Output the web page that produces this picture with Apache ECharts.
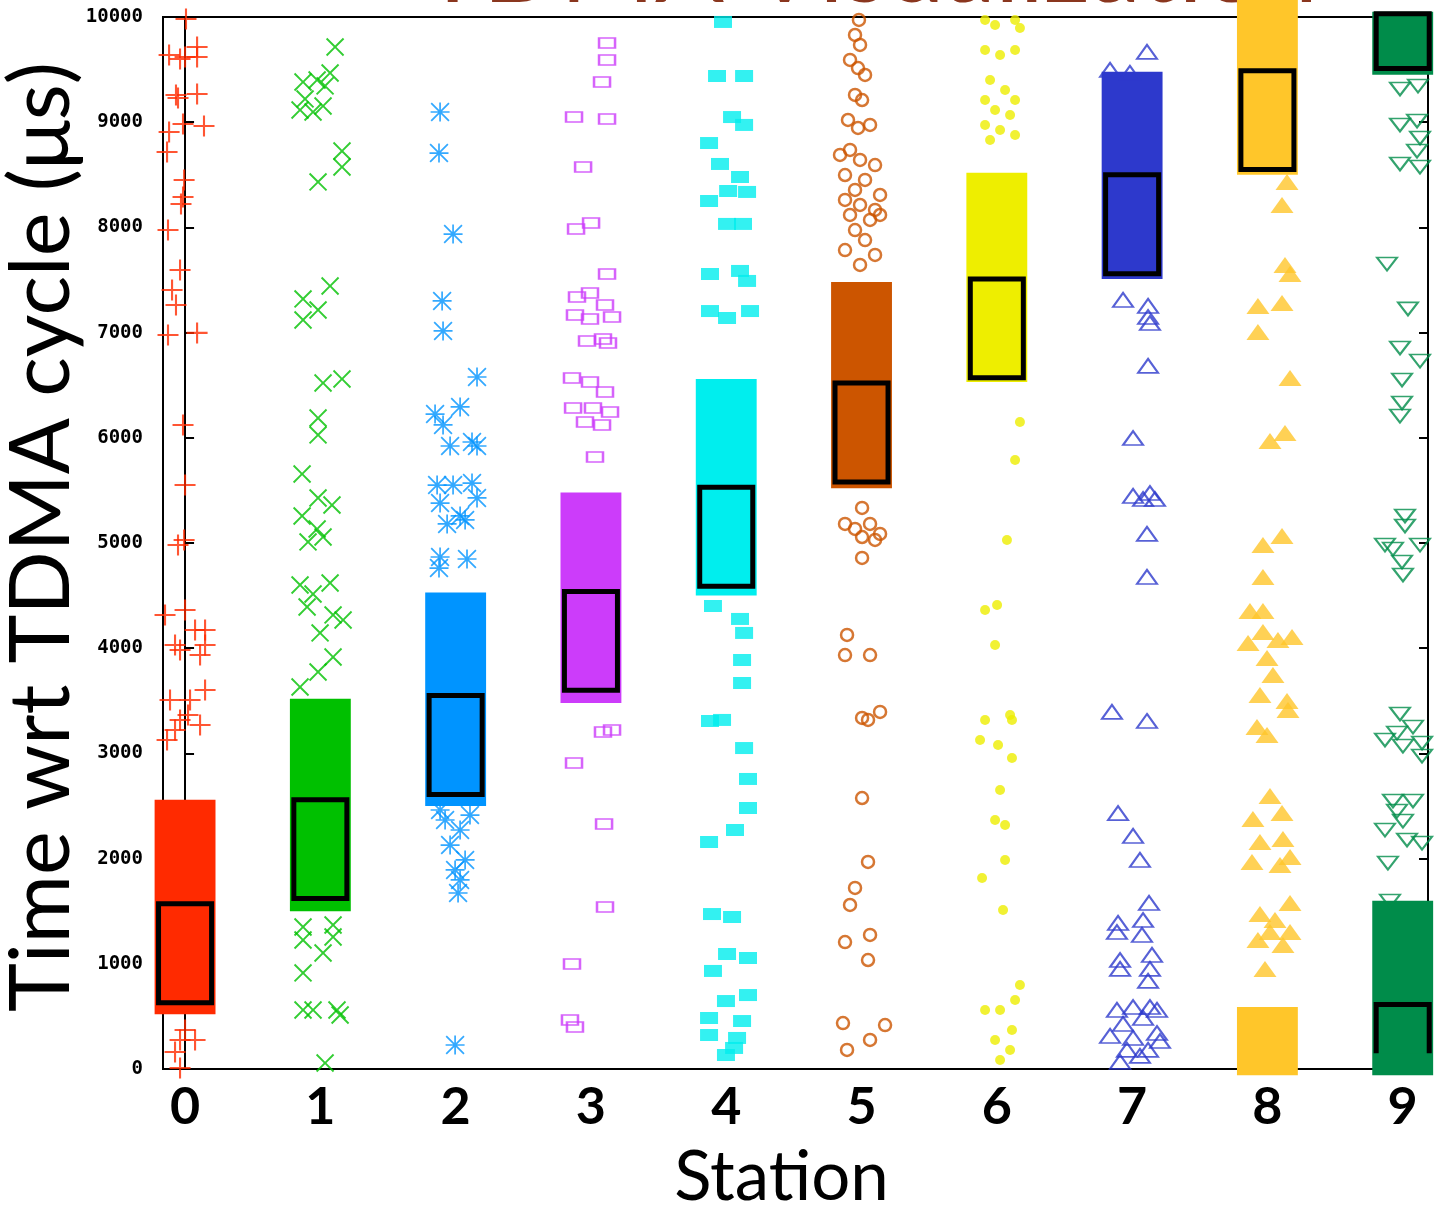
<!DOCTYPE html>
<html>
<head>
<meta charset="utf-8">
<script src="https://cdn.jsdelivr.net/npm/echarts@6/dist/echarts.min.js"></script>
<style>html,body{margin:0;padding:0;background:#fff}#chart{width:1438px;height:1209px}</style>
</head>
<body>
<div id="chart"></div>
<script>
// ---------------- DATA ----------------
const stationLabels = ['0','1','2','3','4','5','6','7','8','9'];
const yTickValues = [0,1000,2000,3000,4000,5000,6000,7000,8000,9000,10000];
const titleText = 'TDMA Visualization';
const yTitle = 'Time wrt TDMA cycle (\u03bcs)';
const xTitle = 'Station';

// dense clouds of measurements: [station, low, high] (µs)
const clouds = [
  [0, 520, 2560], [1, 1500, 3520], [2, 2500, 4530], [3, 3480, 5480], [4, 4500, 6560],
  [5, 5520, 7480], [6, 6530, 8520], [7, 7510, 9480], [8, 8500, 10170], [8, -60, 590],
  [9, -60, 1600], [9, 9450, 10050]
];
// assigned TDMA slots: [station, start, end, openBottom]
const slots = [
  [0, 630, 1570, 0], [1, 1620, 2560, 0], [2, 2610, 3550, 0], [3, 3600, 4540, 0],
  [4, 4590, 5530, 0], [5, 5580, 6520, 0], [6, 6570, 7510, 0], [7, 7560, 8500, 0],
  [8, 8550, 9490, 0], [9, 9510, 10030, 0], [9, 150, 613, 1]
];
// scattered measurements outside the dense clouds: [x position, time µs]
const pts0 = [[0.007,9981],[-0.118,9639],[-0.037,9601],[0,9620],[0.089,9715],[0.089,9620],[-0.067,9259],[-0.052,9230],[0.089,9268],[-0.015,8983],[0.14,8964],[-0.118,8907],[-0.133,8717],[-0.007,8451],[-0.015,8289],[-0.03,8223],[-0.126,7975],[-0.037,7595],[-0.096,7405],[-0.067,7262],[-0.126,6977],[0.089,6997],[-0.015,6122],[0,5551],[-0.007,5029],[-0.052,4981],[-0.148,4316],[0,4363],[0.074,4173],[0.148,4173],[-0.074,4031],[0.148,4031],[-0.037,3983],[0.111,3936],[-0.111,3508],[0.037,3508],[0.148,3603],[-0.037,3318],[0.022,3365],[0.111,3270],[-0.133,3128],[-0.074,3223],[0,371],[-0.037,276],[0.074,276],[-0.074,162],[-0.037,10]];
const pts1 = [[1.109,9715],[0.872,9382],[0.976,9401],[1.072,9468],[1.035,9345],[0.85,9116],[0.946,9097],[1.02,9154],[0.887,9221],[1.16,8726],[1.16,8574],[0.983,8432],[1.072,7443],[0.872,7320],[0.983,7215],[0.872,7120],[1.02,6521],[1.16,6559],[0.983,6188],[0.983,6027],[0.865,5656],[0.983,5428],[1.086,5361],[0.865,5257],[0.976,5133],[0.909,5010],[1.02,5057],[0.85,4601],[1.072,4620],[0.902,4392],[1.094,4316],[0.998,4145],[1.168,4268],[0.946,4515],[1.094,3916],[0.983,3774],[0.85,3631],[0.872,1350],[0.872,1226],[1.094,1369],[1.094,1255],[1.02,1103],[0.872,913],[0.872,561],[0.946,561],[1.123,561],[1.146,513],[1.035,57]];
const pts2 = [[1.885,9097],[1.877,8707],[1.981,7937],[1.9,7301],[1.907,7016],[2.158,6578],[1.848,6226],[2.033,6293],[1.907,6122],[1.959,5922],[2.121,5960],[2.158,5922],[1.863,5551],[1.981,5551],[2.121,5570],[2.158,5428],[1.885,5380],[2.033,5257],[1.937,5181],[2.07,5219],[1.885,4867],[2.084,4848],[1.877,4762],[1.885,2462],[2.106,2414],[1.922,2367],[2.033,2272],[1.959,2129],[2.07,1987],[1.996,1892],[2.033,1797],[2.018,1673],[1.996,228]];
const pts3 = [[3.119,9753],[3.119,9591],[3.082,9382],[2.875,9049],[3.119,9030],[2.942,8574],[2.89,7985],[3.001,8042],[3.119,7557],[2.897,7338],[2.993,7376],[3.104,7262],[2.882,7167],[2.993,7129],[3.156,7148],[2.971,6920],[3.089,6939],[3.126,6901],[2.86,6569],[2.993,6531],[3.104,6436],[2.868,6283],[3.015,6283],[3.141,6245],[2.956,6150],[3.082,6122],[3.03,5818],[3.089,3204],[3.156,3223],[2.875,2909],[3.097,2329],[3.104,1540],[2.86,998],[2.845,466],[2.882,399]];
const pts4 = [[3.976,9953],[3.932,9439],[4.132,9439],[4.043,9049],[4.132,8974],[3.873,8802],[3.954,8603],[4.102,8479],[4.154,8337],[4.014,8346],[3.873,8251],[4.006,8033],[4.124,8033],[3.88,7557],[4.102,7586],[4.154,7491],[3.88,7205],[4.006,7139],[4.176,7205],[3.902,4401],[4.102,4278],[4.132,4145],[4.117,3888],[4.117,3669],[3.88,3308],[3.969,3318],[4.132,3051],[4.161,2757],[4.161,2481],[4.065,2272],[3.873,2158],[3.895,1473],[4.043,1445],[4.006,1093],[4.161,1055],[3.902,932],[4.161,703],[3.998,646],[3.873,485],[3.873,323],[4.117,456],[4.08,295],[3.998,133],[4.058,200]];
const pts5 = [[4.981,9972],[4.952,9829],[4.989,9734],[4.915,9592],[4.974,9515],[5.026,9449],[4.952,9259],[5.004,9211],[4.9,9021],[5.063,8974],[4.974,8945],[4.915,8736],[4.841,8689],[4.989,8641],[5.1,8593],[4.878,8498],[5.026,8451],[4.952,8356],[5.137,8308],[4.878,8261],[4.989,8213],[5.1,8166],[4.915,8118],[5.063,8071],[5.137,8118],[4.952,7975],[5.026,7880],[4.878,7785],[5.1,7738],[4.989,7643],[4.878,5181],[5.004,5333],[5.063,5181],[4.952,5134],[5.137,5086],[5.004,5057],[5.1,5029],[5.004,4858],[4.893,4126],[4.878,3935],[5.063,3935],[5.004,3337],[5.137,3394],[5.048,3318],[5.004,2576],[5.048,1968],[4.952,1721],[4.915,1559],[4.878,1207],[5.063,1274],[5.048,1036],[4.863,437],[5.063,276],[5.174,418],[4.893,181]];
const pts6 = [[5.913,9972],[5.987,9924],[6.135,9972],[6.171,9896],[5.913,9687],[6.024,9639],[6.135,9687],[5.95,9401],[6.061,9306],[6.135,9211],[5.913,9211],[5.987,9116],[6.098,9069],[5.913,8974],[6.024,8926],[5.95,8831],[6.135,8879],[6.171,6150],[6.135,5789],[6.075,5029],[5.913,4363],[6.002,4411],[5.987,4031],[6.098,3365],[5.913,3318],[6.112,3318],[5.876,3128],[6.009,3080],[6.112,2956],[6.024,2652],[5.987,2367],[6.061,2319],[6.061,1987],[5.891,1816],[6.046,1511],[6.171,799],[6.135,656],[5.913,561],[6.024,561],[6.112,371],[5.987,276],[6.098,181],[6.024,86]];
const pts7 = [[7.11,9668],[6.837,9497],[6.984,9468],[6.933,7310],[7.118,7253],[7.118,7148],[7.132,7091],[7.118,6683],[7.007,5998],[7.007,5447],[7.132,5475],[7.081,5418],[7.169,5418],[7.11,5086],[7.11,4677],[6.851,3394],[7.11,3308],[6.896,2433],[7.007,2215],[7.058,1987],[7.125,1578],[6.896,1388],[6.888,1302],[7.081,1416],[7.073,1274],[7.147,1084],[6.911,1036],[6.911,951],[7.132,951],[7.118,837],[6.888,561],[7.007,589],[7.132,589],[7.184,561],[6.933,428],[7.081,485],[6.837,314],[7.007,295],[7.184,342],[6.962,181],[7.118,181],[6.911,67],[7.058,124],[7.206,266]];
const pts8 = [[8.145,8432],[8.108,8213],[8.13,7643],[8.167,7557],[7.93,7253],[8.108,7282],[7.93,7006],[8.167,6569],[8.019,5970],[8.13,6046],[7.967,4981],[8.108,5067],[7.967,4677],[7.871,4354],[7.967,4354],[7.857,4050],[7.967,4154],[8.078,4078],[8.182,4107],[7.997,3907],[8.041,3745],[7.945,3555],[8.145,3498],[8.152,3413],[7.923,3251],[7.997,3175],[8.019,2595],[7.893,2377],[8.108,2433],[7.945,2158],[8.115,2186],[7.886,1968],[8.093,1939],[8.167,2015],[7.945,1473],[8.167,1578],[8.019,1302],[8.167,1302],[7.982,951],[8.056,1416],[7.93,1226],[8.115,1179]];
const pts9 = [[8.98,9316],[9.113,9344],[8.98,8974],[9.106,9012],[9.128,8850],[9.106,8726],[8.98,8603],[9.128,8574],[8.884,7652],[9.039,7225],[8.98,6854],[9.128,6730],[8.995,6550],[8.995,6331],[8.98,6207],[9.017,5257],[9.017,5162],[8.869,4981],[8.995,4820],[9.002,4696],[9.128,4981],[8.928,4943],[8.98,3375],[9.076,3251],[8.869,3128],[9.002,3070],[9.143,3099],[9.143,2975],[8.958,3194],[8.928,2548],[9.076,2548],[9.002,2357],[8.869,2272],[9.032,2177],[9.143,2148],[8.958,2452],[8.891,1958],[8.906,1597]];

// ---------------- STYLE ----------------
const COLORS = ['#ff2a00','#00c000','#0094ff','#cc3cfa','#00eeee','#cc5500','#eeee00','#2d39cc','#ffc62a','#008c4a'];
const CLOUD_HW = 0.225, BOX_HW = 0.196;
const PLUS = 'path://M9,0h2v9h9v2h-9v9h-2v-9h-9v-2h9z';
const THIN_PLUS = 'path://M9.2,0h1.6v9.2h9.2v1.6h-9.2v9.2h-1.6v-9.2h-9.2v-1.6h9.2z';
const STAR = 'path://M9.1,0h1.8v9.1h9.1v1.8h-9.1v9.1h-1.8v-9.1h-9.1v-1.8h9.1z M0,1.3L1.3,0L20,18.7L18.7,20z M18.7,0L20,1.3L1.3,20L0,18.7z';
const open = (c, w) => ({color: 'transparent', borderColor: c, borderWidth: w});
const markerStyles = [
  {symbol: PLUS, symbolSize: 21, itemStyle: {color: COLORS[0]}},
  {symbol: THIN_PLUS, symbolSize: 24, symbolRotate: 45, itemStyle: {color: COLORS[1]}},
  {symbol: STAR, symbolSize: 19, itemStyle: {color: COLORS[2]}},
  {symbol: 'rect', symbolSize: [16, 10], itemStyle: open(COLORS[3], 2)},
  {symbol: 'rect', symbolSize: [18, 12], itemStyle: {color: COLORS[4]}},
  {symbol: 'circle', symbolSize: 12, itemStyle: open(COLORS[5], 2.5)},
  {symbol: 'circle', symbolSize: 10, itemStyle: {color: COLORS[6]}},
  {symbol: 'triangle', symbolSize: [20, 14], itemStyle: open(COLORS[7], 2)},
  {symbol: 'triangle', symbolSize: [23, 16], itemStyle: {color: COLORS[8]}},
  {symbol: 'triangle', symbolSize: [20, 13], symbolRotate: 180, itemStyle: open(COLORS[9], 2)}
];
const allPts = [pts0, pts1, pts2, pts3, pts4, pts5, pts6, pts7, pts8, pts9];

const chart = echarts.init(document.getElementById('chart'), null, {renderer: 'canvas'});

const series = [];
series.push({
  type: 'custom', name: 'clouds', z: 1, clip: false, silent: true,
  encode: {x: 0, y: [1, 2]}, data: clouds,
  renderItem: function (params, api) {
    const s = api.value(0), lo = api.value(1), hi = api.value(2);
    const p1 = api.coord([s - CLOUD_HW, hi]);
    const p2 = api.coord([s + CLOUD_HW, lo]);
    return {type: 'rect', shape: {x: p1[0], y: p1[1], width: p2[0] - p1[0], height: p2[1] - p1[1]},
            style: {fill: COLORS[s]}};
  }
});
allPts.forEach(function (pts, i) {
  series.push(Object.assign({
    type: 'scatter', name: 'Station ' + stationLabels[i], z: 2, clip: false,
    data: pts, silent: true
  }, markerStyles[i]));
});
series.push({
  type: 'custom', name: 'slots', z: 3, clip: false, silent: true,
  encode: {x: 0, y: [1, 2]}, data: slots,
  renderItem: function (params, api) {
    const s = api.value(0), lo = api.value(1), hi = api.value(2), openB = api.value(3);
    const p1 = api.coord([s - BOX_HW, hi]);
    const p2 = api.coord([s + BOX_HW, lo]);
    if (openB) {
      return {type: 'group', children: [
        {type: 'rect', shape: {x: p1[0], y: p1[1], width: p2[0] - p1[0], height: p2[1] - p1[1]}, style: {fill: COLORS[s]}},
        {type: 'polyline', shape: {points: [[p1[0], p2[1]], [p1[0], p1[1]], [p2[0], p1[1]], [p2[0], p2[1]]]},
         style: {stroke: '#000', lineWidth: 5, fill: null, lineJoin: 'miter'}}
      ]};
    }
    return {type: 'rect', shape: {x: p1[0], y: p1[1], width: p2[0] - p1[0], height: p2[1] - p1[1]},
            style: {fill: COLORS[s], stroke: '#000', lineWidth: 5, lineJoin: 'miter'}};
  }
});

chart.setOption({
  animation: false,
  backgroundColor: '#fff',
  grid: {left: 163, right: 10, top: 17, bottom: 140, outerBoundsMode: 'none', containLabel: false,
         show: true, borderColor: '#000', borderWidth: 2, backgroundColor: 'transparent'},
  xAxis: {
    type: 'value', min: -0.163, max: 9.187,
    axisLine: {show: true, onZero: false, lineStyle: {color: '#000', width: 2}},
    axisTick: {show: false}, splitLine: {show: false},
    axisLabel: {customValues: [0,1,2,3,4,5,6,7,8,9], formatter: function (v) { return stationLabels[Math.round(v)]; },
      fontFamily: 'Lato', fontWeight: 'bold', fontSize: 52, color: '#000', margin: 12},
    name: xTitle, nameLocation: 'middle', nameGap: 74,
    nameTextStyle: {fontFamily: 'Lato', fontSize: 69, color: '#000', padding: [0, 28, 0, 0]}
  },
  yAxis: [{
    type: 'value', min: 0, max: 10000, interval: 1000, position: 'left',
    axisLine: {show: true, lineStyle: {color: '#000', width: 2}},
    axisTick: {show: true, inside: true, length: 9, lineStyle: {color: '#000', width: 2}},
    splitLine: {show: false},
    axisLabel: {fontFamily: 'DejaVu Sans Mono', fontWeight: 'bold', fontSize: 19, color: '#000', margin: 20,
      formatter: function (v) { return String(v); }}
  }, {
    type: 'value', min: 0, max: 10000, interval: 1000, position: 'right',
    axisLine: {show: true, lineStyle: {color: '#000', width: 2}},
    axisTick: {show: true, inside: true, length: 9, lineStyle: {color: '#000', width: 2}},
    splitLine: {show: false}, axisLabel: {show: false}
  }],
  graphic: [
    {type: 'text', x: 870, y: 20, silent: true,
     style: {text: titleText, fill: '#8a361e', font: '102px Lato', align: 'center', verticalAlign: 'bottom'}},
    {type: 'text', x: 42, y: 537, rotation: Math.PI / 2, silent: true,
     style: {text: yTitle, fill: '#000', font: '83px Lato', align: 'center', verticalAlign: 'middle'}}
  ],
  series: series
});
</script>
</body>
</html>
